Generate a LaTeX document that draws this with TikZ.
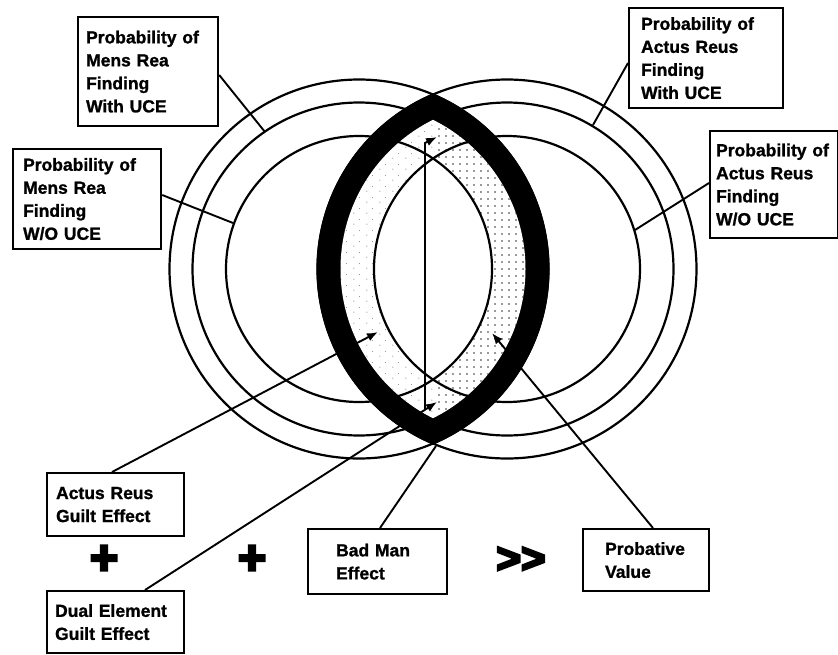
\documentclass[tikz,border=0pt]{standalone}
\usepackage{fontspec}
\setmainfont{Liberation Sans}
\newfontfamily\labelfont{Liberation Sans Bold}[FakeBold=1.2]
\newfontfamily\symfont{Liberation Sans Bold}[FakeBold=6]
\usetikzlibrary{calc,arrows.meta,patterns.meta}

% stipple for the band between the middle and inner lenses
\tikzdeclarepattern{
  name=bandspeck,
  type=uncolored,
  bounding box={(0,0) and (6.5pt,6.5pt)},
  tile size={(6.5pt,6.5pt)},
  code={\fill (3.25pt,3.25pt) circle[radius=0.95pt];}
}
\tikzdeclarepattern{
  name=bandfaint,
  type=uncolored,
  bounding box={(0,0) and (13pt,11pt)},
  tile size={(13pt,11pt)},
  code={\fill (3pt,2pt) circle[radius=0.6pt]; \fill (9pt,7pt) circle[radius=0.5pt];}
}

\begin{document}
\begin{tikzpicture}[x=1pt,y=-1pt,
  ring/.style={line width=2.2pt},
  labelbox/.style={draw, line width=2.2pt, anchor=north west, align=left,
    font=\labelfont\fontsize{17.5}{23}\selectfont, inner ysep=0pt},
  leader/.style={line width=1.9pt},
  tipped/.style={-{Latex[length=11pt,width=8.5pt]}},
  bigsym/.style={font=\symfont\fontsize{48}{48}\selectfont, inner sep=0pt},
]
\useasboundingbox (0,0) rectangle (838,654);

% centres of the two ring sets
\coordinate (L) at (359,269);
\coordinate (R) at (507,269);

% outer and middle rings
\draw[ring] (L) circle[radius=189.5pt] (L) circle[radius=166.5pt];
\draw[ring] (R) circle[radius=189.5pt] (R) circle[radius=166.5pt];

% black lens between the outer and middle overlaps
\begin{scope}
  \clip (L) circle[radius=190.5pt];
  \fill[black] (R) circle[radius=190.5pt];
\end{scope}

% stippled middle lens
\begin{scope}
  \clip (L) circle[radius=166.5pt];
  \clip (R) circle[radius=166.5pt];
  \fill[white] (300,90) rectangle (560,450);
  \fill[pattern={bandfaint}, pattern color=black!55] (300,90) rectangle (433,450);
  \fill[pattern={bandspeck}, pattern color=black!80] (433,90) rectangle (560,450);
\end{scope}

% clear inner lens
\begin{scope}
  \clip (L) circle[radius=133pt];
  \fill[white] (R) circle[radius=133pt];
\end{scope}

% inner rings
\draw[ring] (L) circle[radius=133pt] (R) circle[radius=133pt];

% label boxes
\node[labelbox, minimum width=140pt, minimum height=109pt, text width=124pt, inner xsep=8pt]
  (mrw) at (77,16) {Probability of\\Mens Rea\\Finding\\With UCE};
\node[labelbox, minimum width=148pt, minimum height=100pt, text width=128pt, inner xsep=10pt]
  (mrwo) at (12,148) {Probability of\\Mens Rea\\Finding\\W/O UCE};
\node[labelbox, minimum width=154pt, minimum height=100pt, text width=130pt, inner xsep=12pt]
  (arw) at (628,7) {Probability of\\Actus Reus\\Finding\\With UCE};
\node[labelbox, minimum width=128pt, minimum height=107pt, text width=116pt, inner xsep=6pt]
  (arwo) at (709,130) {Probability of\\Actus Reus\\Finding\\W/O UCE};
\node[labelbox, minimum width=137pt, minimum height=63pt, text width=119pt, inner xsep=9pt]
  (arg) at (46,472) {Actus Reus\\Guilt Effect};
\node[labelbox, minimum width=137pt, minimum height=62pt, text width=121pt, inner xsep=8pt]
  (deg) at (46,590) {Dual Element\\Guilt Effect};
\node[labelbox, minimum width=139pt, minimum height=65pt, text width=83pt, inner xsep=28pt]
  (bme) at (307,528) {Bad Man\\Effect};
\node[labelbox, minimum width=126pt, minimum height=62pt, text width=82pt, inner xsep=22pt]
  (pv) at (582,528) {Probative\\Value};

% operators
\node[bigsym] (plusA) at (104,560) {+};
\node[bigsym] (plusB) at (252,560) {+};
\node[bigsym, font=\symfont\fontsize{42}{42}\selectfont] (gg) at (521,560) {>\kern0pt>};

% ring ends of the leaders
\coordinate (mrwEnd) at (265,132);
\coordinate (mrwoEnd) at (233,223);
\coordinate (arwEnd) at (593,125);
\coordinate (arwoEnd) at (635,230);
\coordinate (argTip) at (378,332);
\coordinate (degTip) at (437,402);
\coordinate (degTopTip) at (437,137);
\coordinate (degBend) at (425,143);
\coordinate (lensBot) at (436,446);
\coordinate (pvTip) at (492,333);

% leaders
\draw[leader] ($(mrw.north east)+(0,59)$) -- (mrwEnd);
\draw[leader] ($(mrwo.north east)+(0,47)$) -- (mrwoEnd);
\draw[leader] ($(arw.north west)+(0,56)$) -- (arwEnd);
\draw[leader] ($(arwo.north west)+(0,53)$) -- (arwoEnd);
\draw[leader, tipped] ($(arg.north west)+(66,0)$) -- (argTip);
\coordinate (degStart) at ($(deg.north west)+(99,0)$);
\draw[leader, tipped] (degStart) -- (degTip);
\coordinate (degJoin) at ($(degStart)!0.959!(degTip)$);
\draw[leader, tipped] (degJoin) -- (degBend) -- (degTopTip);
\draw[leader] ($(bme.north west)+(73,0)$) -- (lensBot);
\draw[leader, tipped] ($(pv.north west)+(71,0)$) -- (pvTip);
\end{tikzpicture}
\end{document}
